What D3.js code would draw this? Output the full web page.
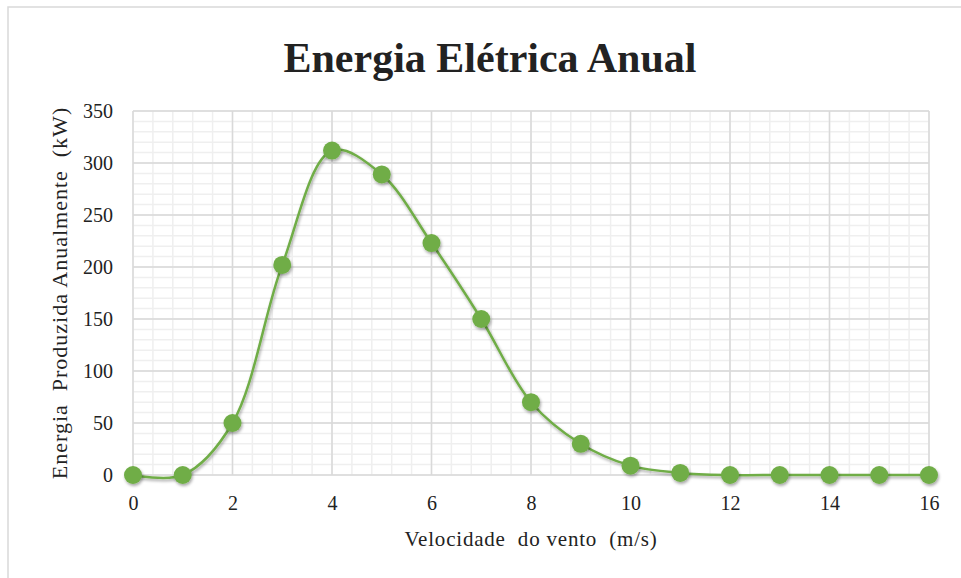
<!DOCTYPE html>
<html>
<head>
<meta charset="utf-8">
<script src="https://cdn.jsdelivr.net/npm/d3@7"></script>
<style>
  body { margin: 0; background: #fff; }
  text { font-family: "Liberation Serif", "Times New Roman", serif; fill: #222; }
</style>
</head>
<body>
<div id="chart"></div>
<script>
// data
var speeds = [0, 1, 2, 3, 4, 5, 6, 7, 8, 9, 10, 11, 12, 13, 14, 15, 16]
var energy = [0, 0, 50, 202, 312, 289, 223, 150, 70, 30, 9, 2, 0, 0, 0, 0, 0]
var xTicks = [0, 2, 4, 6, 8, 10, 12, 14, 16]
var yTicks = [0, 50, 100, 150, 200, 250, 300, 350]

var titleText = 'Energia Elétrica Anual'
var xTitle = 'Velocidade  do vento  (m/s)'
var yTitle = 'Energia  Produzida Anualmente  (kW)'

var w = 961, h = 578
var margin = { top: 111, right: 32, bottom: 103, left: 133 }
var iw = w - margin.left - margin.right
var ih = h - margin.top - margin.bottom

var green = '#70ad47'

var svg = d3.select('#chart').append('svg')
  .attr('width', w)
  .attr('height', h)

var defs = svg.append('defs')
var shadow = defs.append('filter')
  .attr('id', 'shadow')
  .attr('x', '-50%').attr('y', '-50%')
  .attr('width', '200%').attr('height', '200%')
shadow.append('feDropShadow')
  .attr('dx', 1).attr('dy', 2)
  .attr('stdDeviation', 1.6)
  .attr('flood-color', '#000')
  .attr('flood-opacity', 0.35)

// outer chart border
svg.append('rect')
  .attr('x', 8).attr('y', 7)
  .attr('width', w + 20).attr('height', h + 20)
  .attr('fill', 'none')
  .attr('stroke', '#d9d9d9')
  .attr('stroke-width', 1.5)

var g = svg.append('g')
  .attr('transform', 'translate(' + margin.left + ',' + margin.top + ')')

var x = d3.scaleLinear().domain([0, 16]).range([0, iw])
var y = d3.scaleLinear().domain([0, 350]).range([ih, 0])

// minor grid
var xMinor = d3.range(0, 16.001, 0.4)
var yMinor = d3.range(0, 350.001, 10)

g.append('g').selectAll('line')
  .data(xMinor)
  .enter().append('line')
  .attr('x1', function(d) { return x(d) })
  .attr('x2', function(d) { return x(d) })
  .attr('y1', 0).attr('y2', ih)
  .attr('stroke', '#efefef')
  .attr('stroke-width', 1.5)

g.append('g').selectAll('line')
  .data(yMinor)
  .enter().append('line')
  .attr('x1', 0).attr('x2', iw)
  .attr('y1', function(d) { return y(d) })
  .attr('y2', function(d) { return y(d) })
  .attr('stroke', '#efefef')
  .attr('stroke-width', 1.5)

// major grid
g.append('g').selectAll('line')
  .data(xTicks)
  .enter().append('line')
  .attr('x1', function(d) { return x(d) })
  .attr('x2', function(d) { return x(d) })
  .attr('y1', 0).attr('y2', ih)
  .attr('stroke', '#d9d9d9')
  .attr('stroke-width', 1.5)

g.append('g').selectAll('line')
  .data(yTicks)
  .enter().append('line')
  .attr('x1', 0).attr('x2', iw)
  .attr('y1', function(d) { return y(d) })
  .attr('y2', function(d) { return y(d) })
  .attr('stroke', '#d9d9d9')
  .attr('stroke-width', 1.5)

// axes (labels only)
var xAxis = g.append('g')
  .attr('transform', 'translate(0,' + ih + ')')
  .call(d3.axisBottom(x).tickValues(xTicks).tickSize(0).tickPadding(21))
xAxis.select('.domain').remove()
xAxis.selectAll('text')
  .style('font-size', '20px')
  .style('font-family', '"Liberation Serif", serif')
  .attr('fill', '#222')

var yAxis = g.append('g')
  .call(d3.axisLeft(y).tickValues(yTicks).tickSize(0).tickPadding(20))
yAxis.select('.domain').remove()
yAxis.selectAll('text')
  .style('font-size', '20px')
  .style('font-family', '"Liberation Serif", serif')
  .attr('fill', '#222')

var data = speeds.map(function(s, i) { return { s: s, e: energy[i] } })

var line = d3.line()
  .x(function(d) { return x(d.s) })
  .y(function(d) { return y(d.e) })
  .curve(d3.curveCatmullRom.alpha(0.5))

g.append('path')
  .datum(data)
  .attr('d', line)
  .attr('fill', 'none')
  .attr('stroke', green)
  .attr('stroke-width', 2.5)
  .attr('filter', 'url(#shadow)')

g.append('g').selectAll('circle')
  .data(data)
  .enter().append('circle')
  .attr('cx', function(d) { return x(d.s) })
  .attr('cy', function(d) { return y(d.e) })
  .attr('r', 9)
  .attr('fill', green)
  .attr('filter', 'url(#shadow)')

// titles
svg.append('text')
  .attr('x', 490)
  .attr('y', 72)
  .attr('text-anchor', 'middle')
  .style('font-size', '42px')
  .style('font-weight', 'bold')
  .attr('fill', '#000')
  .text(titleText)

svg.append('text')
  .attr('x', margin.left + iw / 2)
  .attr('y', 546)
  .attr('text-anchor', 'middle')
  .style('font-size', '21px')
  .style('letter-spacing', '0.8px')
  .style('white-space', 'pre')
  .text(xTitle)

svg.append('text')
  .attr('transform', 'translate(67,293) rotate(-90)')
  .attr('text-anchor', 'middle')
  .style('font-size', '22px')
  .style('letter-spacing', '1px')
  .style('white-space', 'pre')
  .text(yTitle)
</script>
</body>
</html>
